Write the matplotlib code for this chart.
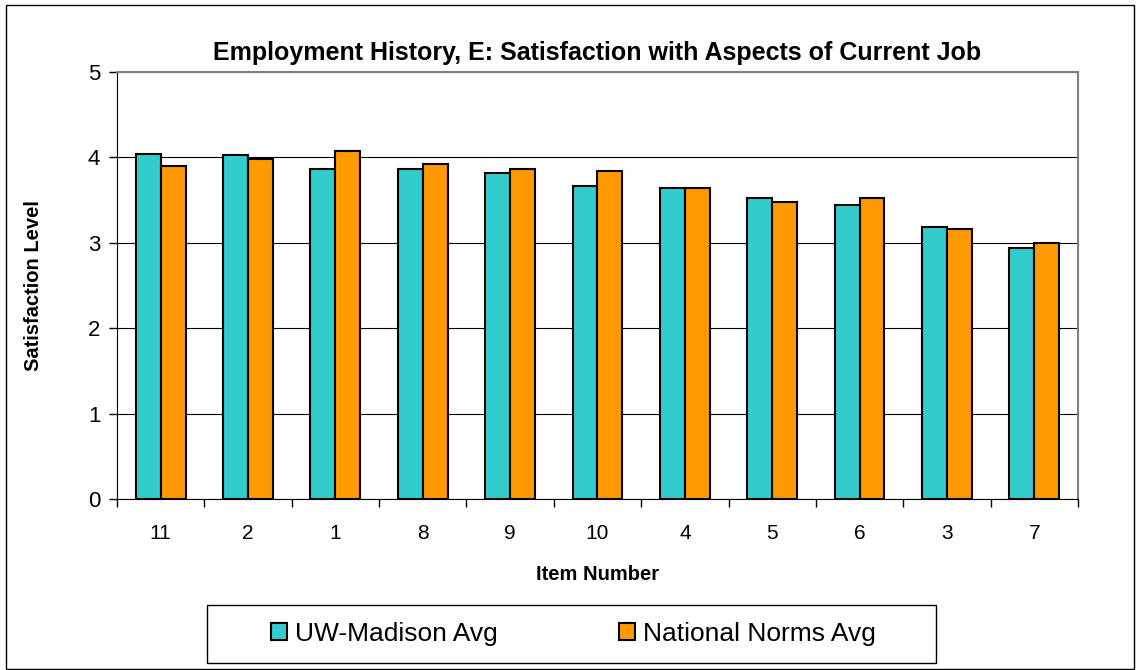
import matplotlib.pyplot as plt
import numpy as np
from matplotlib.patches import Rectangle

items = ['11', '2', '1', '8', '9', '10', '4', '5', '6', '3', '7']
uw_avg = [4.04, 4.03, 3.87, 3.86, 3.82, 3.67, 3.64, 3.53, 3.44, 3.19, 2.94]
norms_avg = [3.90, 3.98, 4.07, 3.92, 3.87, 3.84, 3.64, 3.48, 3.52, 3.16, 3.00]

plt.rcParams['font.family'] = ['Liberation Sans', 'DejaVu Sans']

fig = plt.figure(figsize=(11.4, 6.7), dpi=100)
ax = fig.add_axes([0.1026, 0.2552, 0.843, 0.6373])

x = np.arange(len(items))
w = 0.285
ax.bar(x - w / 2, uw_avg, w, color='#33CCCC', edgecolor='black', linewidth=1.5,
       label='UW-Madison Avg', zorder=3)
ax.bar(x + w / 2, norms_avg, w, color='#FF9900', edgecolor='black', linewidth=1.5,
       label='National Norms Avg', zorder=3)

ax.set_xlim(-0.5, len(items) - 0.5)
ax.set_ylim(0, 5)
ax.set_yticks([0, 1, 2, 3, 4, 5])
ax.yaxis.grid(True, color='black', linewidth=0.8, zorder=0)
ax.set_axisbelow(True)

ax.set_xticks(x)
ax.set_xticklabels(items)
ax.set_xticks(np.arange(-0.5, len(items)), minor=True)
ax.tick_params(axis='x', which='major', length=0, pad=18, labelsize=15)
ax.tick_params(axis='x', which='minor', length=6, width=1)
ax.tick_params(axis='y', length=6, width=1, labelsize=16, pad=6)

for s in ['top', 'right']:
    ax.spines[s].set_color('#808080')
    ax.spines[s].set_linewidth(1.5)
ax.spines['left'].set_color('black')
ax.spines['bottom'].set_color('black')

ax.set_title('Employment History, E: Satisfaction with Aspects of Current Job',
             fontsize=18, fontweight='bold', pad=9)
ax.set_xlabel('Item Number', fontsize=14.5, fontweight='bold', labelpad=16)
ax.set_ylabel('Satisfaction Level', fontsize=14.5, fontweight='bold', labelpad=32)

# legend entries without frame, frame drawn as a separate box
fig.legend(loc='center', bbox_to_anchor=(0.503, 0.054), ncol=2,
           fontsize=19, frameon=False,
           handlelength=0.6, handleheight=0.6, handletextpad=0.3,
           columnspacing=4.6, borderpad=0, borderaxespad=0)
fig.patches.append(Rectangle((207 / 1140, 1 - 663 / 670), 729 / 1140, 58 / 670,
                             transform=fig.transFigure, fill=False,
                             edgecolor='black', linewidth=1))

fig.patches.append(Rectangle((0.005, 0.002), 0.99, 0.99, transform=fig.transFigure,
                             fill=False, edgecolor='black', linewidth=1))

fig.savefig('out.png', dpi=100)
